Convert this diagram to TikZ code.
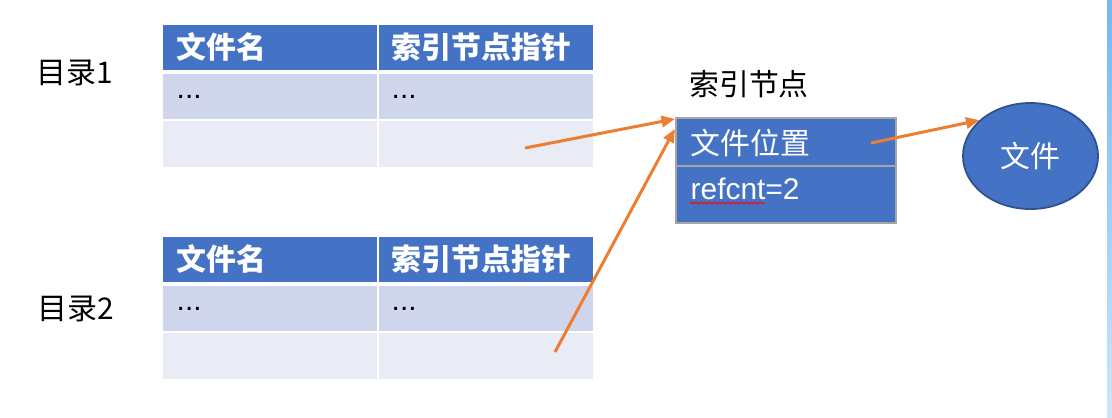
\documentclass[tikz,border=0pt]{standalone}
\usepackage{fontspec}
\setmainfont{Liberation Sans}
\newfontfamily\cjk{Noto Sans CJK SC}
\usepackage{xcolor}
\definecolor{vizHead}{HTML}{4472C4}
\definecolor{vizRowA}{HTML}{CFD5EA}
\definecolor{vizRowB}{HTML}{E9EBF5}
\definecolor{vizArrow}{HTML}{ED7D31}
\definecolor{vizEdge}{HTML}{A5A5A5}
\definecolor{vizRim}{HTML}{2F528F}
\definecolor{vizBarTop}{HTML}{72B9F3}
\definecolor{vizBarBottom}{HTML}{CBE6FB}
\usetikzlibrary{arrows.meta,shapes.geometric,decorations.pathmorphing}

\tikzset{
  headtext/.style={font=\cjk\bfseries\fontsize{8.5pt}{10pt}\selectfont, text=white, anchor=west, inner sep=0},
  celltext/.style={font=\fontsize{8.5pt}{10pt}\selectfont, anchor=base west, inner sep=0},
  plaintext/.style={font=\cjk\fontsize{8.5pt}{10pt}\selectfont, inner sep=0},
  ptr/.style={draw=vizArrow, line width=0.85pt, -{Triangle[length=3.8pt,width=3.2pt]}}
}

\begin{document}
\begin{tikzpicture}[x=0.01cm, y=-0.01cm]
  \useasboundingbox (0,0) rectangle (1112,417);
  \fill[white] (0,0) rectangle (1112,417);
  \shade[top color=vizBarTop, bottom color=vizBarBottom] (1107,0) rectangle (1112,417);

  \foreach \t/\n in {25/1, 237/2} {
    \fill[vizHead] (163,\t) rectangle (377,\t+45);
    \fill[vizHead] (379,\t) rectangle (593,\t+45);
    \fill[vizRowA] (163,\t+49) rectangle (377,\t+94);
    \fill[vizRowA] (379,\t+49) rectangle (593,\t+94);
    \fill[vizRowB] (163,\t+96) rectangle (377,\t+142);
    \fill[vizRowB] (379,\t+96) rectangle (593,\t+142);
    \node[headtext] (name\n) at (176,\t+22) {文件名};
    \node[headtext] (ptr\n) at (391,\t+22) {索引节点指针};
    \node[celltext] (dotsa\n) at (176,\t+73) {...};
    \node[celltext] (dotsb\n) at (391,\t+73) {...};
  }

  \node[plaintext] (dir1) at (75,73) {目录1};
  \node[plaintext] (dir2) at (76,309) {目录2};

  \node[plaintext] (inodelabel) at (749,84) {索引节点};
  \node[draw=vizEdge, fill=vizHead, line width=0.6pt, minimum width=2.2cm, minimum height=1.05cm, inner sep=0] (inode) at (786,170.5) {};
  \draw[vizEdge, line width=0.6pt] (676,166) -- (896,166);
  \node[plaintext, text=white, anchor=west] (place) at (690,143) {文件位置};
  \node[celltext, text=white] (refcnt) at (690,199) {refcnt=2};
  \draw[red, line width=0.25pt, decorate, decoration={snake, amplitude=0.3pt, segment length=1.3pt}] (690,203) -- (765,203);

  \node[ellipse, draw=vizRim, fill=vizHead, line width=0.5pt, minimum width=1.35cm, minimum height=1.06cm, inner sep=0, text=white, font=\cjk\fontsize{8.5pt}{10pt}\selectfont] (file) at (1030.5,156) {文件};

  \coordinate (from1) at (525,148);
  \coordinate (from2) at (555,352);
  \coordinate (from3) at (871,143);
  \draw[ptr] (from1) -- ([yshift=-0.02cm]inode.north west);
  \draw[ptr] (from2) -- ([yshift=-0.12cm]inode.north west);
  \draw[ptr] (from3) -- (file.145);
\end{tikzpicture}
\end{document}
